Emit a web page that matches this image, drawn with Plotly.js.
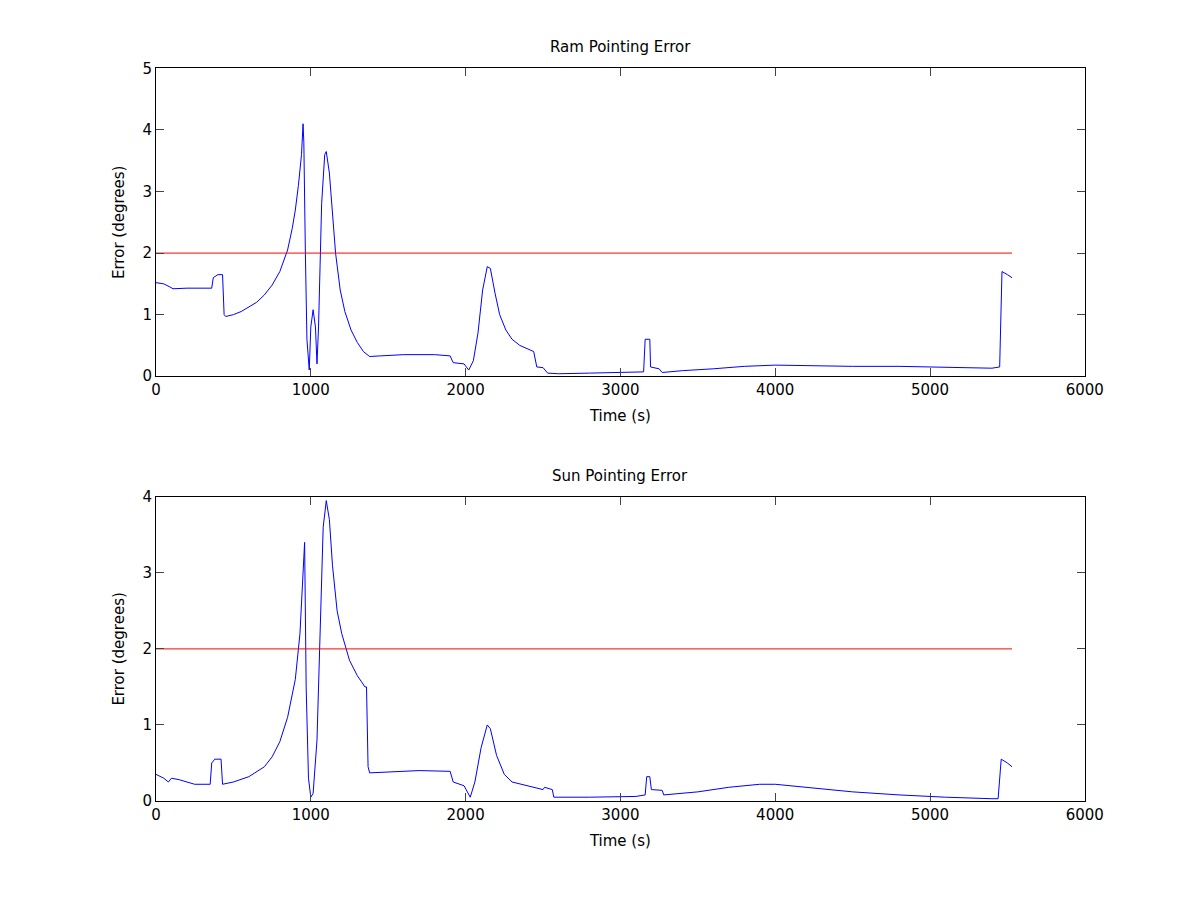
<!DOCTYPE html>
<html><head><script src="https://cdn.plot.ly/plotly-3.0.1.min.js"></script></head>
<body style="margin:0"><div id="c" style="width:1200px;height:900px"></div>
<script>
var ramT = [0,50,90,110,200,300,360,370,400,430,440,450,500,550,600,650,700,750,800,850,880,900,920,940,950,955,965,975,990,1000,1015,1030,1040,1050,1060,1070,1090,1100,1120,1140,1160,1190,1220,1260,1300,1340,1380,1450,1600,1800,1900,1920,1990,2020,2050,2080,2110,2140,2160,2190,2220,2260,2300,2350,2440,2460,2500,2530,2600,2800,3000,3150,3160,3190,3195,3250,3270,3400,3600,3800,4000,4200,4500,4800,5000,5200,5400,5450,5465,5500,5530];
var ramErr = [1.52,1.5,1.45,1.42,1.43,1.43,1.43,1.6,1.65,1.65,1.0,0.97,1.0,1.05,1.12,1.2,1.32,1.48,1.7,2.05,2.4,2.7,3.1,3.6,4.1,3.8,2.0,0.6,0.1,0.8,1.08,0.8,0.2,0.8,1.8,2.8,3.6,3.65,3.3,2.6,2.0,1.4,1.05,0.75,0.55,0.4,0.32,0.33,0.35,0.35,0.33,0.22,0.2,0.1,0.25,0.7,1.4,1.78,1.75,1.35,1.0,0.75,0.6,0.5,0.4,0.15,0.14,0.05,0.04,0.05,0.06,0.07,0.6,0.6,0.15,0.12,0.06,0.09,0.12,0.16,0.18,0.17,0.16,0.16,0.15,0.15,0.13,0.15,1.7,1.65,1.6];
var sunT = [0,50,80,100,150,250,350,360,380,420,430,500,600,700,750,800,850,900,930,950,960,970,985,1000,1015,1040,1060,1080,1100,1120,1140,1170,1200,1250,1300,1350,1360,1370,1380,1500,1700,1900,1920,1990,2030,2060,2100,2140,2160,2200,2250,2300,2400,2500,2510,2560,2570,2800,3100,3160,3170,3190,3200,3270,3280,3500,3700,3900,4000,4200,4500,4800,5100,5400,5440,5460,5500,5530];
var sunErr = [0.35,0.3,0.25,0.3,0.28,0.22,0.22,0.5,0.55,0.55,0.22,0.25,0.32,0.45,0.58,0.78,1.1,1.6,2.2,3.0,3.4,1.5,0.3,0.05,0.1,0.8,2.1,3.6,3.95,3.7,3.1,2.5,2.2,1.85,1.65,1.5,1.5,0.45,0.37,0.38,0.4,0.39,0.25,0.2,0.05,0.25,0.7,1.0,0.95,0.6,0.35,0.25,0.2,0.15,0.18,0.15,0.05,0.05,0.06,0.08,0.32,0.32,0.15,0.14,0.08,0.12,0.18,0.22,0.22,0.18,0.12,0.08,0.05,0.03,0.03,0.55,0.5,0.45];
var limitT = [0,5530];
var limitVal = [2,2];

var F = {family:"DejaVu Sans, Liberation Sans, sans-serif", size:15, color:"#000"};
var ax = {range:[0,6000], dtick:1000, ticks:"inside", ticklen:8, mirror:"ticks", showline:true, linecolor:"#000", showgrid:false, zeroline:false, tickfont:F, domain:[0.13,0.904], title:{text:"Time (s)", font:F, standoff:12}};
var tr = [
 {x:ramT,y:ramErr,mode:"lines",line:{color:"#0000ff",width:1},xaxis:"x",yaxis:"y"},
 {x:limitT,y:limitVal,mode:"lines",line:{color:"#ff0000",width:1},xaxis:"x",yaxis:"y"},
 {x:sunT,y:sunErr,mode:"lines",line:{color:"#0000ff",width:1},xaxis:"x2",yaxis:"y2"},
 {x:limitT,y:limitVal,mode:"lines",line:{color:"#ff0000",width:1},xaxis:"x2",yaxis:"y2"}
];
var yax = function(r,d,anc){return {range:r,dtick:1,ticks:"inside",ticklen:8,mirror:"ticks",showline:true,linecolor:"#000",showgrid:false,zeroline:false,tickfont:F,domain:d,anchor:anc,title:{text:"Error (degrees)",font:F,standoff:14}};};
var layout = {
 width:1200,height:900,showlegend:false,margin:{l:0,r:0,t:0,b:0},paper_bgcolor:"#fff",plot_bgcolor:"#fff",
 xaxis:Object.assign({},ax,{anchor:"y"}),
 yaxis:yax([0,5],[0.582,0.924],"x"),
 xaxis2:Object.assign({},ax,{anchor:"y2"}),
 yaxis2:yax([0,4],[0.11,0.448],"x2"),
 annotations:[
  {text:"Ram Pointing Error",x:0.517,y:0.924,xref:"paper",yref:"paper",yanchor:"bottom",yshift:10,showarrow:false,font:F},
  {text:"Sun Pointing Error",x:0.517,y:0.448,xref:"paper",yref:"paper",yanchor:"bottom",yshift:10,showarrow:false,font:F}
 ]
};
Plotly.newPlot("c",tr,layout,{displayModeBar:false});
</script></body></html>
